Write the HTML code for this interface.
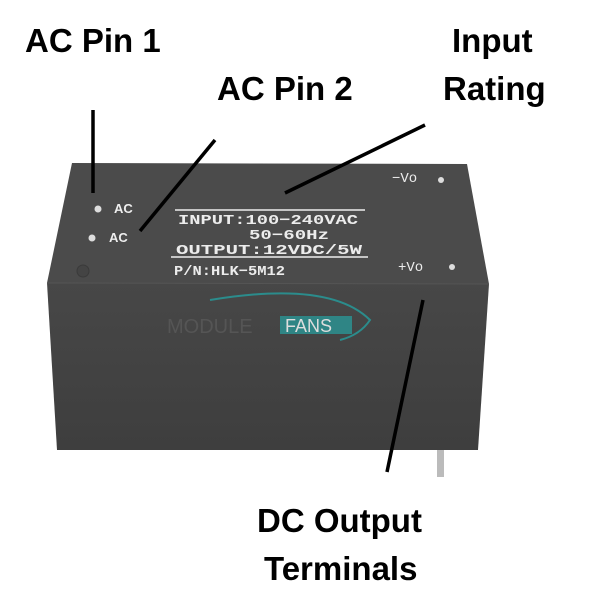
<!DOCTYPE html>
<html><head><style>
body{margin:0;width:600px;height:600px;background:#fff;position:relative;overflow:hidden;font-family:"Liberation Sans",sans-serif}
.l{position:absolute;font-weight:bold;font-size:33px;color:#000;white-space:nowrap;line-height:1}
</style></head><body>
<svg width="600" height="600" style="position:absolute;left:0;top:0">
<defs>
<linearGradient id="f" x1="0" y1="0" x2="0" y2="1"><stop offset="0" stop-color="#474747"/><stop offset="1" stop-color="#3e3e3e"/></linearGradient>
</defs>
<rect x="437" y="445" width="7" height="32" fill="#bbb"/>
<polygon points="72,163 467,164 489,284 47,283" fill="#4b4b4b"/>
<polygon points="47,283 489,284 478,450 57,450" fill="url(#f)"/>
<line x1="47" y1="283" x2="489" y2="284" stroke="#555" stroke-width="1"/>
<circle cx="98" cy="209" r="3.5" fill="#ddd"/>
<circle cx="92" cy="238" r="3.5" fill="#ddd"/>
<circle cx="441" cy="180" r="3" fill="#ddd"/>
<circle cx="452" cy="267" r="3" fill="#ddd"/>
<circle cx="83" cy="271" r="6" fill="#444" stroke="#3a3a3a"/>
<g fill="#eee" font-family="Liberation Sans,sans-serif" font-weight="bold" font-size="13">
<text x="114" y="213">AC</text><text x="109" y="242">AC</text>
</g>
<g fill="#ececec" font-family="Liberation Mono,monospace" font-size="14" font-weight="bold">
<text x="392" y="182" font-weight="normal">−Vo</text>
<text x="398" y="271" font-weight="normal">+Vo</text>
<text x="178" y="224" textLength="180" lengthAdjust="spacingAndGlyphs">INPUT:100−240VAC</text>
<text x="249" y="239" textLength="80" lengthAdjust="spacingAndGlyphs">50−60Hz</text>
<text x="176" y="254" textLength="186" lengthAdjust="spacingAndGlyphs">OUTPUT:12VDC/5W</text>
<text x="174" y="275" textLength="111" lengthAdjust="spacingAndGlyphs">P/N:HLK−5M12</text>
</g>
<line x1="175" y1="210" x2="365" y2="210" stroke="#eee" stroke-width="1.5"/>
<line x1="171" y1="257" x2="368" y2="257" stroke="#eee" stroke-width="1.5"/>
<path d="M210,300 Q330,280 370,320 Q360,335 340,340" fill="none" stroke="#2b8c8c" stroke-width="2"/>
<rect x="280" y="316" width="72" height="18" fill="#2f8585"/>
<text x="167" y="333" font-family="Liberation Sans,sans-serif" font-size="20" fill="#555">MODULE</text>
<text x="285" y="332" font-family="Liberation Sans,sans-serif" font-size="18" fill="#ddd">FANS</text>
<g stroke="#000" stroke-width="3.5">
<line x1="93" y1="110" x2="93" y2="193"/>
<line x1="215" y1="140" x2="140" y2="231"/>
<line x1="425" y1="125" x2="285" y2="193"/>
<line x1="423" y1="300" x2="387" y2="472"/>
</g>
</svg>
<div class="l" style="left:25px;top:24px">AC Pin 1</div>
<div class="l" style="left:217px;top:72px">AC Pin 2</div>
<div class="l" style="left:452px;top:24px">Input</div>
<div class="l" style="left:443px;top:72px">Rating</div>
<div class="l" style="left:257px;top:504px">DC Output</div>
<div class="l" style="left:264px;top:552px">Terminals</div>
</body></html>
